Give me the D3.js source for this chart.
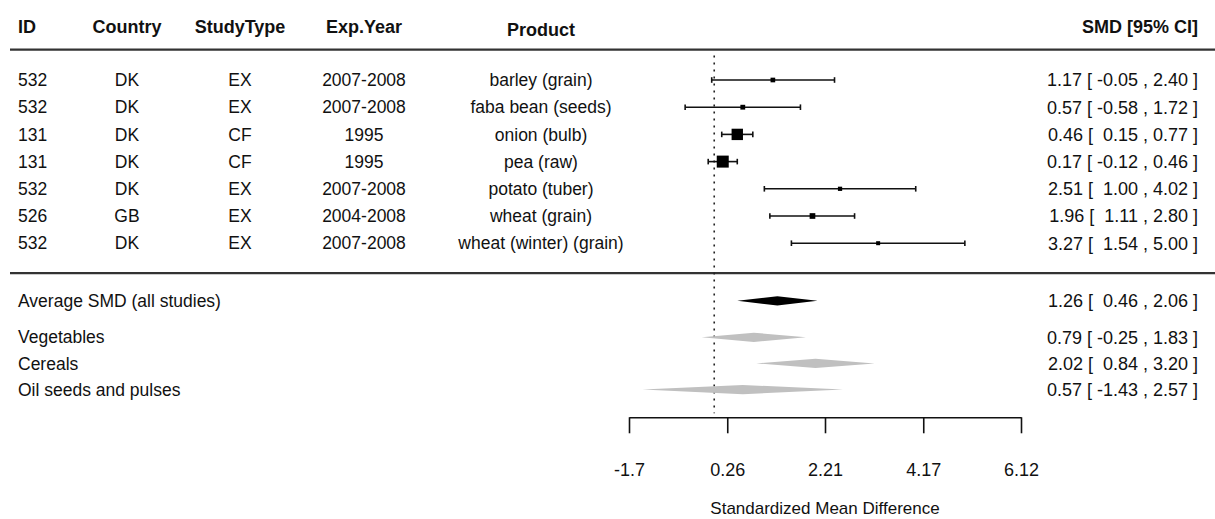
<!DOCTYPE html>
<html>
<head>
<meta charset="utf-8">
<script src="https://cdn.jsdelivr.net/npm/d3@7"></script>
<style>
  html, body { margin: 0; padding: 0; background: #fff; }
  svg text { font-family: "Liberation Sans", Arial, Helvetica, sans-serif; fill: #111; white-space: pre; }
</style>
</head>
<body>
<svg id="chart" width="1215" height="519"></svg>
<script>
// ---------------- data ----------------
const columnHeaders = ["ID", "Country", "StudyType", "Exp.Year", "Product"];
const ciHeader = "SMD [95% CI]";
const ids = ["532", "532", "131", "131", "532", "526", "532"];
const countries = ["DK", "DK", "DK", "DK", "DK", "GB", "DK"];
const studyTypes = ["EX", "EX", "CF", "CF", "EX", "EX", "EX"];
const expYears = ["2007-2008", "2007-2008", "1995", "1995", "2007-2008", "2004-2008", "2007-2008"];
const products = ["barley (grain)", "faba bean (seeds)", "onion (bulb)", "pea (raw)", "potato (tuber)", "wheat (grain)", "wheat (winter) (grain)"];
const smd = [1.17, 0.57, 0.46, 0.17, 2.51, 1.96, 3.27];
const ciLower = [-0.05, -0.58, 0.15, -0.12, 1.00, 1.11, 1.54];
const ciUpper = [2.40, 1.72, 0.77, 0.46, 4.02, 2.80, 5.00];

const summaryLabels = ["Average SMD (all studies)", "Vegetables", "Cereals", "Oil seeds and pulses"];
const summarySmd = [1.26, 0.79, 2.02, 0.57];
const summaryLower = [0.46, -0.25, 0.84, -1.43];
const summaryUpper = [2.06, 1.83, 3.20, 2.57];

const tickValues = [-1.7, 0.26, 2.21, 4.17, 6.12];
const tickLabels = ["-1.7", "0.26", "2.21", "4.17", "6.12"];
const xTitle = "Standardized Mean Difference";

// ---------------- layout ----------------
const W = 1215, H = 519;
const FS = 17.5, HFS = 18;
const svg = d3.select("#chart");

const x = d3.scaleLinear().domain([tickValues[0], tickValues[tickValues.length - 1]]).range([629, 1021]);
// row scale: row index -> pixel
const y = d3.scaleLinear().domain([0, 1]).range([80, 107.2]);

const studyRows = smd.map((d, i) => i);
const summaryRows = [8.12, 9.46, 10.42, 11.38];
const colX = [18, 127, 240, 364, 541];
const colAnchor = ["start", "middle", "middle", "middle", "middle"];
const ciRight = 1198;

// header
svg.append("g").selectAll("text").data(columnHeaders).join("text")
  .attr("x", (d, i) => colX[i])
  .attr("y", (d, i) => y(i === 4 ? -1.85 : -1.95))
  .attr("dy", "0.35em")
  .attr("text-anchor", (d, i) => colAnchor[i])
  .style("font-weight", "bold").style("font-size", HFS + "px")
  .text(d => d);
svg.append("text").attr("x", ciRight).attr("y", y(-1.95)).attr("dy", "0.35em")
  .attr("text-anchor", "end").style("font-weight", "bold").style("font-size", HFS + "px")
  .text(ciHeader);

// separator lines
[-1.12, 7.1].forEach(r => {
  svg.append("line").attr("x1", 10).attr("x2", W).attr("y1", y(r)).attr("y2", y(r))
    .attr("stroke", "#333").attr("stroke-width", 2.2);
});

// reference dotted line at 0
svg.append("line").attr("x1", x(0)).attr("x2", x(0))
  .attr("y1", y(-0.9)).attr("y2", y(12.25))
  .attr("stroke", "#222").attr("stroke-width", 1.6).attr("stroke-dasharray", "2,5");

// study table columns
const cols = [ids, countries, studyTypes, expYears, products];
cols.forEach((arr, c) => {
  svg.append("g").selectAll("text").data(arr).join("text")
    .attr("x", colX[c]).attr("y", (d, i) => y(studyRows[i])).attr("dy", "0.35em")
    .attr("text-anchor", colAnchor[c]).style("font-size", FS + "px")
    .text(d => d);
});

// CI text formatting (plain hyphen minus as in the original)
const f2 = v => v.toFixed(2);
const ciText = (m, lo, hi) => `${f2(m)} [${lo < 0 ? " " : "  "}${f2(lo)} , ${f2(hi)} ]`;

svg.append("g").selectAll("text").data(smd).join("text")
  .attr("x", ciRight).attr("y", (d, i) => y(studyRows[i])).attr("dy", "0.35em")
  .attr("text-anchor", "end").style("font-size", HFS + "px")
  .text((d, i) => ciText(d, ciLower[i], ciUpper[i]));

// point size from precision (1/SE), as metafor does
const prec = smd.map((d, i) => 1 / ((ciUpper[i] - ciLower[i]) / (2 * 1.96)));
const size = d3.scaleLinear().domain(d3.extent(prec)).range([4, 12]);

const g = svg.append("g");
smd.forEach((m, i) => {
  const yy = y(studyRows[i]);
  g.append("line").attr("x1", x(ciLower[i])).attr("x2", x(ciUpper[i]))
    .attr("y1", yy).attr("y2", yy).attr("stroke", "#111").attr("stroke-width", 1.6);
  [ciLower[i], ciUpper[i]].forEach(v => {
    g.append("line").attr("x1", x(v)).attr("x2", x(v))
      .attr("y1", yy - 2.8).attr("y2", yy + 2.8).attr("stroke", "#111").attr("stroke-width", 1.6);
  });
  const s = size(prec[i]);
  g.append("rect").attr("x", x(m) - s / 2).attr("y", yy - s / 2)
    .attr("width", s).attr("height", s).attr("fill", "#000");
});

// summary rows
svg.append("g").selectAll("text").data(summaryLabels).join("text")
  .attr("x", colX[0]).attr("y", (d, i) => y(summaryRows[i])).attr("dy", "0.35em")
  .style("font-size", FS + "px").text(d => d);
svg.append("g").selectAll("text").data(summarySmd).join("text")
  .attr("x", ciRight).attr("y", (d, i) => y(summaryRows[i])).attr("dy", "0.35em")
  .attr("text-anchor", "end").style("font-size", HFS + "px")
  .text((d, i) => ciText(d, summaryLower[i], summaryUpper[i]));

const halfH = 4.6;
svg.append("g").selectAll("path").data(summarySmd).join("path")
  .attr("d", (d, i) => {
    const yy = y(summaryRows[i]);
    return `M${x(summaryLower[i])},${yy} L${x(d)},${yy - halfH} L${x(summaryUpper[i])},${yy} L${x(d)},${yy + halfH} Z`;
  })
  .attr("fill", (d, i) => i === 0 ? "#000" : "#c0c0c0");

// x axis
const axisY = y(12.4);
const axis = d3.axisBottom(x).tickValues(tickValues)
  .tickFormat((d, i) => tickLabels[i]).tickSizeOuter(0).tickSizeInner(16).tickPadding(30);
const ax = svg.append("g").attr("transform", `translate(0,${axisY})`).call(axis);
ax.select(".domain").attr("stroke", "#111").attr("stroke-width", 1.6);
ax.selectAll(".tick line").attr("stroke", "#111").attr("stroke-width", 1.6);
ax.selectAll(".tick text").style("font-size", HFS + "px")
  .style("font-family", "'Liberation Sans', Arial, sans-serif").attr("fill", "#111");

svg.append("text").attr("x", (x.range()[0] + x.range()[1]) / 2).attr("y", 508).attr("dy", "0.35em")
  .attr("text-anchor", "middle").style("font-size", "17px").text(xTitle);
</script>
</body>
</html>
